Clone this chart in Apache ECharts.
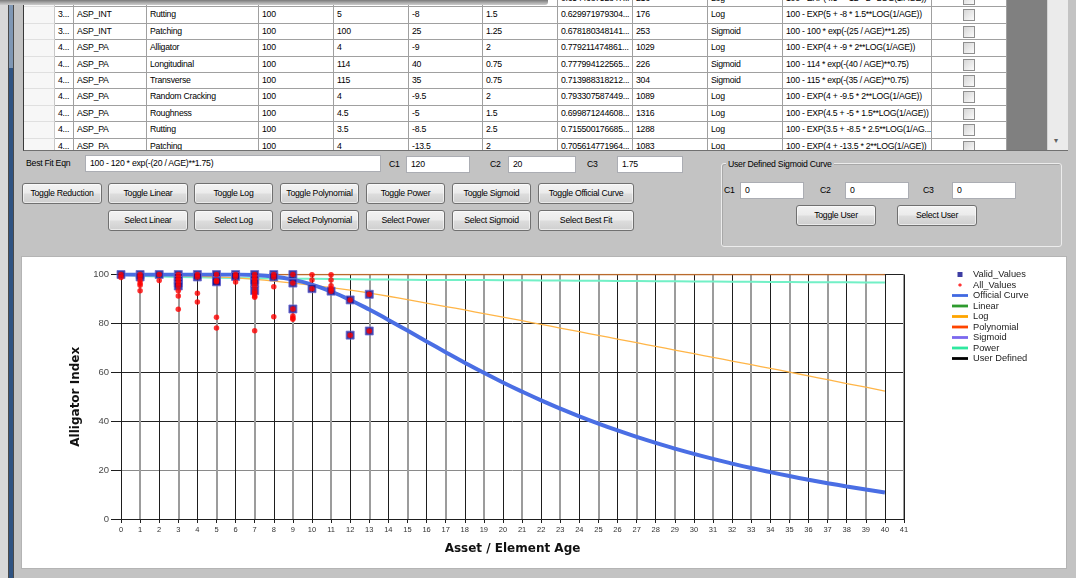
<!DOCTYPE html>
<html>
<head>
<meta charset="utf-8">
<script src="https://cdn.jsdelivr.net/npm/echarts@6/dist/echarts.min.js"></script>
<style>
  html, body { margin:0; padding:0; }
  body { width:1076px; height:578px; overflow:hidden; position:relative; background:#c3c3c3; font-family:"Liberation Sans", Arial, sans-serif; color:#000; }
  .a { position:absolute; box-sizing:border-box; }
  .cell { position:absolute; box-sizing:border-box; height:16.4px; border-right:1px solid #a0a0a0; border-bottom:1px solid #a0a0a0; background:#fff; font-size:8.7px; letter-spacing:-0.25px; line-height:15.4px; padding-left:3px; white-space:nowrap; overflow:hidden; }
  .rh { background:#f7f7f7; border-bottom-color:#e0e0e0; border-right-color:#c8c8c8; }
  .btn { position:absolute; box-sizing:border-box; height:21px; border:1px solid #707070; border-radius:3px; background:linear-gradient(#f3f3f3 0%, #ebebeb 48%, #dddddd 52%, #cfcfcf 100%); font-size:8.7px; letter-spacing:-0.25px; text-align:center; line-height:19px; box-shadow: inset 0 0 0 1px rgba(255,255,255,0.55); white-space:nowrap; }
  .tb { position:absolute; box-sizing:border-box; height:17px; background:#fff; border:1px solid #abadb3; font-size:8.7px; letter-spacing:-0.25px; line-height:15px; padding-left:4px; white-space:nowrap; }
  .lbl { position:absolute; font-size:8.7px; letter-spacing:-0.25px; line-height:12px; white-space:nowrap; }
  .chk { position:absolute; box-sizing:border-box; width:12px; height:12px; border:1px solid #8f8f8f; background:linear-gradient(135deg,#d6d6d6,#fbfbfb); }
</style>
</head>
<body>
<!-- left frame strip -->
<div class="a" style="left:0;top:0;width:8px;height:578px;background:#d8d8d8"></div>
<div class="a" style="left:8px;top:0;width:6px;height:578px;border-left:1px solid #4a4a4a;border-right:1px solid #4a4a4a;background:linear-gradient(#7f97b4 0px,#7f97b4 68px,#2f5382 68px,#2f5382 100%)"></div>

<!-- data grid -->
<div id="grid" class="a" style="left:23px;top:0;width:1045px;height:151px;overflow:hidden;background:#808080;border-left:1px solid #3a3a3a;border-bottom:1px solid #707070"></div>
<div class="a" style="left:0;top:0;width:548px;height:5px;background:linear-gradient(#7a7a7a,#b0b0b0 60%,#cdcdcd);border-bottom-right-radius:3px"></div>

<!-- best fit row -->
<div class="lbl" style="left:26px;top:157px">Best Fit Eqn</div>
<div class="tb" style="left:85px;top:155px;width:296px" id="bestEqn"></div>
<div class="lbl" style="left:389px;top:158px">C1</div>
<div class="tb" style="left:406px;top:156px;width:64px" id="bc1"></div>
<div class="lbl" style="left:490px;top:158px">C2</div>
<div class="tb" style="left:508px;top:156px;width:68px" id="bc2"></div>
<div class="lbl" style="left:587px;top:158px">C3</div>
<div class="tb" style="left:617px;top:156px;width:66px" id="bc3"></div>

<div id="buttons"></div>

<!-- user defined group -->
<div class="a" style="left:721px;top:163px;width:341px;height:84px;border:1px solid #ececec;border-radius:3px;box-shadow:inset 1px 1px 0 #a8a8a8"></div>
<div class="lbl" style="left:726px;top:158px;background:#c3c3c3;padding:0 2px">User Defined Sigmoid Curve</div>
<div class="lbl" style="left:724px;top:184px">C1</div>
<div class="tb" style="left:740px;top:182px;width:64px">0</div>
<div class="lbl" style="left:820px;top:184px">C2</div>
<div class="tb" style="left:845px;top:182px;width:64px">0</div>
<div class="lbl" style="left:923px;top:184px">C3</div>
<div class="tb" style="left:952px;top:182px;width:64px">0</div>
<div class="btn" style="left:796px;top:205px;width:80px">Toggle User</div>
<div class="btn" style="left:897px;top:205px;width:80px">Select User</div>

<!-- chart panel -->
<div class="a" style="left:21px;top:256px;width:1046px;height:313px;background:#fff;border:1px solid #b4b4b4"></div>
<div id="chart" class="a" style="left:22px;top:257px;width:1043px;height:310px"></div>

<script>
// ---------- table content ----------
const tableRows = [
  ['3...','ASP_INT','Roughness','100','4.5','-12','2','0.654468752847...','216','Log','100 - EXP(4.5 + -12 * 2**LOG(1/AGE))'],
  ['3...','ASP_INT','Rutting','100','5','-8','1.5','0.629971979304...','176','Log','100 - EXP(5 + -8 * 1.5**LOG(1/AGE))'],
  ['3...','ASP_INT','Patching','100','100','25','1.25','0.678180348141...','253','Sigmoid','100 - 100 * exp(-(25 / AGE)**1.25)'],
  ['4...','ASP_PA','Alligator','100','4','-9','2','0.779211474861...','1029','Log','100 - EXP(4 + -9 * 2**LOG(1/AGE))'],
  ['4...','ASP_PA','Longitudinal','100','114','40','0.75','0.777994122565...','226','Sigmoid','100 - 114 * exp(-(40 / AGE)**0.75)'],
  ['4...','ASP_PA','Transverse','100','115','35','0.75','0.713988318212...','304','Sigmoid','100 - 115 * exp(-(35 / AGE)**0.75)'],
  ['4...','ASP_PA','Random Cracking','100','4','-9.5','2','0.793307587449...','1089','Log','100 - EXP(4 + -9.5 * 2**LOG(1/AGE))'],
  ['4...','ASP_PA','Roughness','100','4.5','-5','1.5','0.699871244608...','1316','Log','100 - EXP(4.5 + -5 * 1.5**LOG(1/AGE))'],
  ['4...','ASP_PA','Rutting','100','3.5','-8.5','2.5','0.715500176685...','1288','Log','100 - EXP(3.5 + -8.5 * 2.5**LOG(1/AG...'],
  ['4...','ASP_PA','Patching','100','4','-13.5','2','0.705614771964...','1083','Log','100 - EXP(4 + -13.5 * 2**LOG(1/AGE))']
];
const colEdges = [24,55,74,147,259,334,409,483,558,633,708,783,932,1007];
const bestFit = { eqn:'100 - 120 * exp(-(20 / AGE)**1.75)', c1:'120', c2:'20', c3:'1.75' };
const toggleButtons = ['Toggle Reduction','Toggle Linear','Toggle Log','Toggle Polynomial','Toggle Power','Toggle Sigmoid','Toggle Official Curve'];
const selectButtons = ['Select Linear','Select Log','Select Polynomial','Select Power','Select Sigmoid','Select Best Fit'];
const btnX = [22,108,194,280,366,452,538];
const btnW = [80,80,79,79,79,79,96];

// ---------- chart data ----------
const ages = [0,1,2,3,4,5,6,7,8,9,10,11,12,13,14,15,16,17,18,19,20,21,22,23,24,25,26,27,28,29,30,31,32,33,34,35,36,37,38,39,40];
const officialCurve = [100,100,100,100,100,100,99.97,99.78,99.17,97.9,95.85,93.04,89.59,85.67,81.44,77.06,72.62,68.23,63.95,59.81,55.85,52.09,48.52,45.16,41.99,39.01,36.21,33.58,31.11,28.8,26.62,24.58,22.67,20.86,19.17,17.57,16.07,14.65,13.32,12.05,10.86];
const logCurve = [100,99.9,99.8,99.6,99.3,99.0,98.6,98.0,97.3,96.5,95.6,94.6,93.6,92.4,91.1,89.7,88.3,86.9,85.5,84.0,82.6,81.1,79.6,78.1,76.6,75.1,73.6,72.1,70.6,69.1,67.6,66.1,64.6,63.1,61.6,60.1,58.5,57.0,55.4,53.9,52.3];
const powerCurve = [100,99.4,99.2,99.0,98.9,98.7,98.6,98.5,98.4,98.3,98.3,98.2,98.1,98.0,98.0,97.9,97.8,97.8,97.7,97.7,97.6,97.6,97.5,97.5,97.4,97.4,97.3,97.3,97.2,97.2,97.1,97.1,97.0,97.0,96.9,96.9,96.8,96.8,96.8,96.7,96.7];
const polyAges = [0, 40];
const polyCurve = [100, 100];
const validAges = [0, 1,1, 2, 3,3,3,3,3, 4,4, 5,5,5, 6,6, 7,7,7,7, 8,8, 9,9,9, 10, 11, 12,12, 13,13];
const validValues = [100, 100,99, 100, 100,98.8,97.6,96.5,95.3, 100,99, 100,97.5,97, 100,99.2, 100,97.8,96.5,93.4, 100,99, 100,96.5,85.9, 94.2, 93.2, 89.6,75.2, 91.9,76.9];
const allAges = [0,0, 1,1,1,1,1,1, 2,2, 3,3,3,3,3,3,3,3, 4,4,4,4, 5,5,5,5,5, 6,6,6, 7,7,7,7,7,7,7,7,7,7, 8,8,8,8, 9,9,9,9,9,9, 10,10,10, 11,11,11,11,11, 12,12, 13,13];
const allValues = [100,98.8, 100,99,97.5,96.4,95.6,93.4, 100,97.5, 100,98.8,97.6,96.5,95.3,93.4,91.2,85.8, 100,99,92.3,88.8, 100,97.5,97,82.5,78.1, 100,99.2,96.9, 100,98.8,97.8,96.5,95.1,93.4,92.3,91.2,90.7,77.0, 100,99,95.0,82.7, 100,96.5,85.9,83.0,82.2,81.7, 99.9,97.7,94.2, 99.9,97.7,95.4,94.2,93.2, 89.6,75.2, 91.9,76.9];
const yTicks = { min:0, max:100, step:20 };
const xTicks = { min:0, max:41, step:1 };

// ---------- build form ----------
const grid = document.getElementById('grid');
function addCell(left, top, width, text, cls) {
  const d = document.createElement('div');
  d.className = 'cell' + (cls ? ' ' + cls : '');
  d.style.left = left + 'px'; d.style.top = top + 'px'; d.style.width = width + 'px';
  d.textContent = text;
  grid.appendChild(d);
  return d;
}
tableRows.forEach((row, r) => {
  const top = -9 + 16.4 * r;
  addCell(0, top, colEdges[1] - colEdges[0], '', 'rh');
  row.forEach((txt, c) => {
    addCell(colEdges[c + 1] - 24, top, colEdges[c + 2] - colEdges[c + 1], txt);
  });
  const cb = addCell(colEdges[12] - 24, top, colEdges[13] - colEdges[12], '');
  const box = document.createElement('div');
  box.className = 'chk'; box.style.left = '31px'; box.style.top = '2px';
  cb.appendChild(box);
});
const sb = document.createElement('div');
sb.className = 'a';
sb.style.cssText = 'left:1023px;top:0;width:21px;height:150px;background:#ebebeb;border-left:1px solid #d4d4d4';
sb.innerHTML = '<div class="a" style="left:6px;top:136px;font-size:8px;color:#606060">&#9662;</div>';
grid.appendChild(sb);

document.getElementById('bestEqn').textContent = bestFit.eqn;
document.getElementById('bc1').textContent = bestFit.c1;
document.getElementById('bc2').textContent = bestFit.c2;
document.getElementById('bc3').textContent = bestFit.c3;

const bwrap = document.getElementById('buttons');
toggleButtons.forEach((t, i) => {
  const b = document.createElement('div'); b.className = 'btn';
  b.style.left = btnX[i] + 'px'; b.style.top = '183px'; b.style.width = btnW[i] + 'px';
  b.textContent = t; bwrap.appendChild(b);
});
selectButtons.forEach((t, i) => {
  const b = document.createElement('div'); b.className = 'btn';
  b.style.left = btnX[i + 1] + 'px'; b.style.top = '210px'; b.style.width = btnW[i + 1] + 'px';
  b.textContent = t; bwrap.appendChild(b);
});

// ---------- chart ----------
const pair = (xs, ys) => xs.map((x, i) => [x, ys[i]]);
const lineIcon = 'path://M0,0M16,8M0,2.6L16,2.6L16,5.4L0,5.4Z';
const sqIcon = 'path://M0,0M16,8M5.5,1.5L10.5,1.5L10.5,6.5L5.5,6.5Z';
const dotIcon = 'path://M0,0M16,8M7.3,2.4L8.7,2.4L9.6,3.3L9.6,4.7L8.7,5.6L7.3,5.6L6.4,4.7L6.4,3.3Z';

const chart = echarts.init(document.getElementById('chart'));
chart.setOption({
  animation: false,
  grid: { left: 99, right: 161, top: 17.5, bottom: 48, containLabel: false, outerBoundsMode: 'none' },
  legend: {
    orient: 'vertical', left: 930, top: 13, padding: 0,
    itemWidth: 16, itemHeight: 8, itemGap: 1.5,
    itemStyle: { borderWidth: 0 },
    textStyle: { fontSize: 9.3, color: '#222', fontFamily: 'Liberation Sans, Arial, sans-serif' },
    data: [
      { name: 'Valid_Values', icon: sqIcon },
      { name: 'All_Values', icon: dotIcon },
      { name: 'Official Curve', icon: lineIcon },
      { name: 'Linear', icon: lineIcon },
      { name: 'Log', icon: lineIcon, itemStyle: { color: '#ffa500' } },
      { name: 'Polynomial', icon: lineIcon, itemStyle: { color: '#ff4500' } },
      { name: 'Sigmoid', icon: lineIcon },
      { name: 'Power', icon: lineIcon, itemStyle: { color: '#2fe8a0' } },
      { name: 'User Defined', icon: lineIcon }
    ]
  },
  xAxis: [
    {
      type: 'value', min: xTicks.min, max: xTicks.max, interval: xTicks.step, position: 'bottom',
      axisLine: { show: true, lineStyle: { color: '#1e1e1e', width: 1 } },
      axisTick: { show: true, length: 4, lineStyle: { color: '#1e1e1e' } },
      axisLabel: { fontSize: 7.5, color: '#333', margin: 7, fontFamily: 'Liberation Sans, Arial, sans-serif' },
      splitLine: { show: true, lineStyle: { color: ['rgba(0,0,0,0)', '#9c9c9c'], width: 2 } },
      name: 'Asset / Element Age', nameLocation: 'middle', nameGap: 24,
      nameTextStyle: { fontFamily: 'DejaVu Sans, Verdana, sans-serif', fontWeight: 'bold', fontSize: 12, color: '#111' }
    },
    {
      type: 'value', min: 0, max: xTicks.max, interval: 2, position: 'top',
      axisLine: { show: true, lineStyle: { color: '#1e1e1e', width: 1 } },
      axisTick: { show: false }, axisLabel: { show: false },
      splitLine: { show: true, lineStyle: { color: '#1e1e1e', width: 1 } }
    }
  ],
  yAxis: [
    {
      type: 'value', min: yTicks.min, max: yTicks.max, interval: yTicks.step,
      axisLine: { show: true, lineStyle: { color: '#1e1e1e', width: 1 } },
      axisTick: { show: true, length: 10, lineStyle: { color: '#1e1e1e' } },
      axisLabel: { fontSize: 9.5, color: '#4a4a4a', margin: 12, fontFamily: 'Liberation Sans, Arial, sans-serif' },
      splitLine: { show: true, lineStyle: { color: ['#222', '#8a8a8a', '#222', '#222', '#222', '#222'], width: 1 } },
      name: 'Alligator Index', nameLocation: 'middle', nameGap: 36,
      nameTextStyle: { fontFamily: 'DejaVu Sans, Verdana, sans-serif', fontWeight: 'bold', fontSize: 12, color: '#111' }
    },
    {
      type: 'value', min: yTicks.min, max: yTicks.max, interval: yTicks.step, position: 'right',
      axisLine: { show: true, lineStyle: { color: '#1e1e1e', width: 1 } },
      axisTick: { show: false }, axisLabel: { show: false }, splitLine: { show: false }
    }
  ],
  series: [
    { name: 'Linear', type: 'line', data: [], color: '#2e9b2e', showSymbol: false, symbol: 'none' },
    { name: 'Sigmoid', type: 'line', data: [], color: '#7b68ee', showSymbol: false, symbol: 'none' },
    { name: 'User Defined', type: 'line', data: [], color: '#000000', showSymbol: false, symbol: 'none' },
    { name: 'Polynomial', type: 'line', data: pair(polyAges, polyCurve), color: '#ff4500', symbol: 'none',
      lineStyle: { color: '#b96a2c', width: 1.6 }, z: 3 },
    { name: 'Power', type: 'line', data: pair(ages, powerCurve), color: '#2fe8a0', symbol: 'none',
      lineStyle: { color: '#72f0c6', width: 2 }, z: 3 },
    { name: 'Log', type: 'line', data: pair(ages, logCurve), color: '#ffa500', symbol: 'none', smooth: true,
      lineStyle: { color: '#ffb547', width: 1.3 }, z: 3 },
    { name: 'Official Curve', type: 'line', data: pair(ages, officialCurve), color: '#4169e1', symbol: 'none', smooth: true,
      lineStyle: { color: '#4a6ee4', width: 4 }, z: 4 },
    { name: 'Valid_Values', type: 'scatter', data: pair(validAges, validValues), symbol: 'rect', symbolSize: 8,
      itemStyle: { color: '#0c0c8c', borderColor: '#6d6dd2', borderWidth: 1 }, z: 5 },
    { name: 'All_Values', type: 'scatter', data: pair(allAges, allValues), symbol: 'circle', symbolSize: 5.5,
      itemStyle: { color: '#ff0000' }, z: 6 }
  ]
});
</script>
</body>
</html>
